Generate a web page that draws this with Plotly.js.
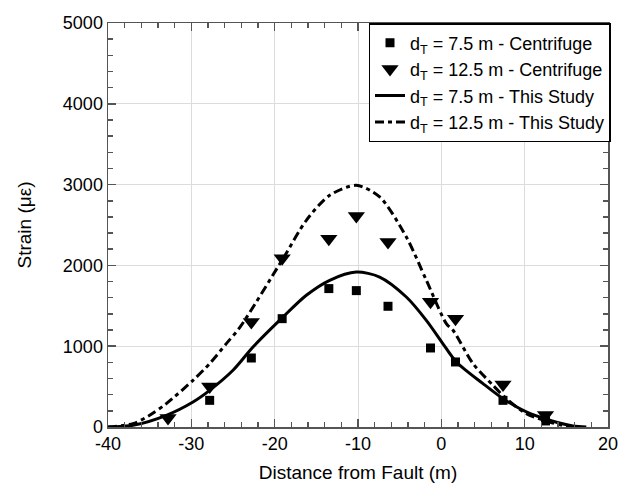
<!DOCTYPE html>
<html><head><meta charset="utf-8">
<script src="https://cdn.plot.ly/plotly-3.0.1.min.js"></script>
<style>html,body{margin:0;padding:0;background:#fff}#chart{width:629px;height:486px}</style>
</head><body><div id="chart"></div>
<script>
// Centrifuge measurements
const xCentrifuge = [-27.8, -22.8, -19.1, -13.5, -10.2, -6.4, -1.3, 1.7, 7.4, 12.5];
const yCent75 = [330, 854, 1341, 1713, 1688, 1494, 978, 805, 330, 75];
const xCent125 = [-32.8, -27.8, -22.8, -19.1, -13.5, -10.2, -6.4, -1.3, 1.7, 7.4, 12.5];
const yCent125 = [110, 500, 1300, 2090, 2330, 2610, 2290, 1550, 1340, 525, 150];

// This study curves
const xStudy75 = [-40, -37, -33, -29.8, -27.8, -25, -22.6, -19.2, -16.2, -13.4, -10.2, -7.4, -4.2, -1.8, 0.2, 1.8, 5, 7.4, 10.2, 13, 15.8, 17.4];
const yStudy75 = [0, 21, 145, 310, 454, 702, 990, 1341, 1630, 1816, 1918, 1856, 1609, 1320, 1030, 805, 537, 351, 186, 83, 12, 0];
const xStudy125 = [-40, -37, -35, -33, -29.8, -27.8, -25.8, -24.2, -19, -16.2, -13.4, -10.2, -7.4, -4.2, -1.8, 0.6, 1.4, 3.8, 6.2, 7.8, 10.2, 13, 15, 16.6];
const yStudy125 = [0, 42, 145, 290, 578, 785, 1032, 1230, 2084, 2558, 2868, 2991, 2847, 2351, 1816, 1280, 1197, 785, 516, 351, 165, 62, 9, 0];

// Tick labels
const xTickVals = [-40, -30, -20, -10, 0, 10, 20];
const xTickText = ['-40', '-30', '-20', '-10', '0', '10', '20'];
const yTickVals = [0, 1000, 2000, 3000, 4000, 5000];
const yTickText = ['0', '1000', '2000', '3000', '4000', '5000'];

const lbl = (d, s) => 'd<sub>T</sub> = ' + d + ' m - ' + s;
const FONT = 'Liberation Sans, Arial, sans-serif';

const traces = [
  {x: xCentrifuge, y: yCent75, mode: 'markers', type: 'scatter', name: lbl('7.5', 'Centrifuge'),
   marker: {symbol: 'square', size: 9, color: '#000'}},
  {x: xCent125, y: yCent125, mode: 'markers', type: 'scatter', name: lbl('12.5', 'Centrifuge'),
   marker: {symbol: 'triangle-down', size: 15, color: '#000'}},
  {x: xStudy75, y: yStudy75, mode: 'lines', type: 'scatter', name: lbl('7.5', 'This Study'),
   line: {color: '#000', width: 3, shape: 'spline', smoothing: 0.8}},
  {x: xStudy125, y: yStudy125, mode: 'lines', type: 'scatter', name: lbl('12.5', 'This Study'),
   line: {color: '#000', width: 3, dash: '9px,4px,4px,4px', shape: 'spline', smoothing: 0.8}}
];

const axisCommon = {
  showline: true, linecolor: '#555', linewidth: 1.5, mirror: 'allticks',
  ticks: 'inside', ticklen: 8, tickcolor: '#555', tickwidth: 1.5,
  showgrid: true, gridcolor: '#dcdcdc', gridwidth: 1, zeroline: false,
  tickfont: {family: FONT, size: 18, color: '#000'}, tickmode: 'array'
};

const layout = {
  width: 629, height: 486,
  margin: {l: 108, r: 21, t: 23, b: 59},
  paper_bgcolor: '#fff', plot_bgcolor: '#fff',
  font: {family: FONT, color: '#000'},
  xaxis: Object.assign({}, axisCommon, {
    range: [-40, 20], tickvals: xTickVals, ticktext: xTickText,
    minor: {tickmode: 'linear', tick0: 0, dtick: 2, ticks: 'inside', ticklen: 5, tickcolor: '#555', tickwidth: 1.5, showgrid: false},
    title: {text: 'Distance from Fault (m)', font: {size: 19}, standoff: 12}
  }),
  yaxis: Object.assign({}, axisCommon, {
    range: [0, 5000], tickvals: yTickVals, ticktext: yTickText,
    minor: {tickmode: 'linear', tick0: 0, dtick: 200, ticks: 'inside', ticklen: 5, tickcolor: '#555', tickwidth: 1.5, showgrid: false},
    title: {text: 'Strain (με)', font: {size: 19}, standoff: 26}
  }),
  legend: {x: 1.005, xanchor: 'right', y: 1, yanchor: 'top',
    bordercolor: '#000', borderwidth: 1.5, bgcolor: '#fff',
    font: {size: 18, family: FONT}, itemwidth: 30, tracegroupgap: 0},
  showlegend: true
};

Plotly.newPlot('chart', traces, layout, {staticPlot: true, displayModeBar: false});
</script></body></html>
